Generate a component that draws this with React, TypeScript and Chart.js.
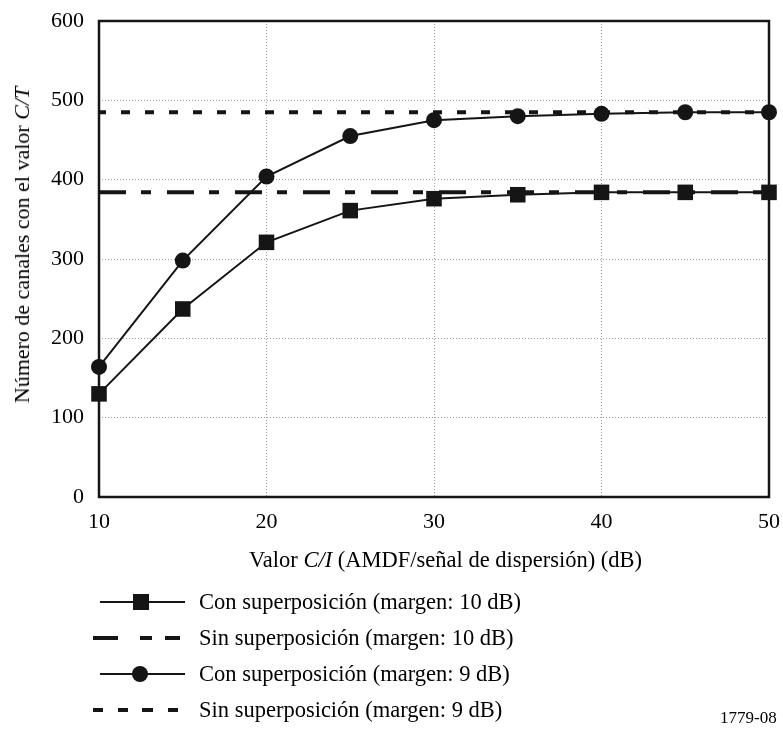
import React, { useEffect, useRef } from 'react';
import { Chart, registerables } from 'chart.js';

Chart.register(...registerables);

// C/I values (dB)
const xValues = [10, 15, 20, 25, 30, 35, 40, 45, 50];
// Con superposición (margen: 10 dB)
const conSup10 = [130, 237, 321, 361, 376, 381, 384, 384, 384];
// Con superposición (margen: 9 dB)
const conSup9 = [164, 298, 404, 455, 475, 480, 483, 485, 485];
// Sin superposición (constant levels)
const sinSup10 = [384, 384, 384, 384, 384, 384, 384, 384, 384];
const sinSup9 = [485, 485, 485, 485, 485, 485, 485, 485, 485];

const xTicks = [10, 20, 30, 40, 50];
const yTicks = [0, 100, 200, 300, 400, 500, 600];

const legendLabels = [
  'Con superposición (margen: 10 dB)',
  'Sin superposición (margen: 10 dB)',
  'Con superposición (margen: 9 dB)',
  'Sin superposición (margen: 9 dB)',
];

const FONT = "'Liberation Serif', 'Times New Roman', serif";
const INK = '#151515';

const toPoints = (ys: number[]) => xValues.map((x, i) => ({ x, y: ys[i] }));

const framePlugin = {
  id: 'frame',
  beforeDatasetsDraw(chart: any) {
    const { ctx, chartArea } = chart;
    ctx.save();
    ctx.strokeStyle = INK;
    ctx.lineWidth = 2.5;
    ctx.strokeRect(chartArea.left, chartArea.top, chartArea.right - chartArea.left, chartArea.bottom - chartArea.top);
    ctx.restore();
  },
};

const zeroPad = (s: any) => {
  s.paddingTop = 0;
  s.paddingBottom = 0;
  s.paddingLeft = 0;
  s.paddingRight = 0;
};

export default function App() {
  const canvasRef = useRef<HTMLCanvasElement | null>(null);

  useEffect(() => {
    const canvas = canvasRef.current;
    if (!canvas) return;
    const chart = new Chart(canvas, {
      type: 'line',
      data: {
        datasets: [
          {
            label: legendLabels[0],
            data: toPoints(conSup10),
            borderColor: INK,
            backgroundColor: INK,
            borderWidth: 2,
            pointStyle: 'rect',
            pointRadius: 11,
            pointBorderWidth: 0,
            tension: 0,
          },
          {
            label: legendLabels[2],
            data: toPoints(conSup9),
            borderColor: INK,
            backgroundColor: INK,
            borderWidth: 2,
            pointStyle: 'circle',
            pointRadius: 8,
            pointBorderWidth: 0,
            tension: 0,
          },
          {
            label: legendLabels[1],
            data: toPoints(sinSup10),
            borderColor: INK,
            borderWidth: 4,
            borderDash: [27, 15, 10, 16],
            pointRadius: 0,
          },
          {
            label: legendLabels[3],
            data: toPoints(sinSup9),
            borderColor: INK,
            borderWidth: 4,
            borderDash: [9, 15],
            borderDashOffset: 2,
            pointRadius: 0,
          },
        ],
      },
      options: {
        animation: false,
        responsive: false,
        clip: false as any,
        layout: { padding: { left: 0, top: 21, right: 14, bottom: 0 } },
        plugins: { legend: { display: false }, tooltip: { enabled: false } },
        scales: {
          x: {
            type: 'linear',
            min: 10,
            max: 50,
            afterBuildTicks: (s: any) => {
              s.ticks = xTicks.map((v) => ({ value: v }));
            },
            afterFit: (s: any) => {
              s.height = 234;
              zeroPad(s);
            },
            grid: {
              color: (c: any) => (c.tick && (c.tick.value === 10 || c.tick.value === 50) ? 'rgba(0,0,0,0)' : '#9a9a9a'),
              lineWidth: 1,
              drawTicks: false,
            },
            border: { display: false, dash: [1, 2] },
            ticks: { padding: 12, color: '#000', maxRotation: 0, font: { family: FONT, size: 22 } },
          },
          y: {
            type: 'linear',
            min: 0,
            max: 600,
            afterBuildTicks: (s: any) => {
              s.ticks = yTicks.map((v) => ({ value: v }));
            },
            afterFit: (s: any) => {
              s.width = 99;
              zeroPad(s);
            },
            grid: {
              color: (c: any) => (c.tick && (c.tick.value === 0 || c.tick.value === 600) ? 'rgba(0,0,0,0)' : '#9a9a9a'),
              lineWidth: 1,
              drawTicks: false,
            },
            border: { display: false, dash: [1, 2] },
            ticks: { padding: 15, color: '#000', font: { family: FONT, size: 22 } },
          },
        },
      },
      plugins: [framePlugin],
    });
    return () => chart.destroy();
  }, []);

  const textStyle: React.CSSProperties = {
    position: 'absolute',
    fontFamily: FONT,
    fontSize: 22.5,
    color: '#000',
    whiteSpace: 'nowrap',
    lineHeight: '1',
  };

  const rowY = [602, 638, 674, 710];
  const svgTop = 585;

  return (
    <div style={{ position: 'absolute', left: 0, top: 0, width: 783, height: 731, background: '#fff', overflow: 'hidden' }}>
      <canvas ref={canvasRef} width={783} height={731} style={{ position: 'absolute', left: 0, top: 0 }} />
      <div
        style={{
          ...textStyle,
          fontSize: 22,
          left: 22,
          top: 245,
          transform: 'translate(-50%, -50%) rotate(-90deg)',
        }}
      >
        Número de canales con el valor <i>C/T</i>
      </div>
      <div style={{ ...textStyle, left: 249, top: 560, transform: 'translateY(-50%)' }}>
        Valor <i>C/I</i> (AMDF/señal de dispersión) (dB)
      </div>
      <svg width={100} height={140} style={{ position: 'absolute', left: 90, top: svgTop }}>
        {/* row 1: line + square */}
        <line x1={10} y1={rowY[0] - svgTop} x2={95} y2={rowY[0] - svgTop} stroke={INK} strokeWidth={2} />
        <rect x={51 - 8} y={rowY[0] - svgTop - 8} width={16} height={16} fill={INK} />
        {/* row 2: long-short dash */}
        <line x1={3} y1={rowY[1] - svgTop} x2={28} y2={rowY[1] - svgTop} stroke={INK} strokeWidth={4} />
        <line x1={50} y1={rowY[1] - svgTop} x2={62} y2={rowY[1] - svgTop} stroke={INK} strokeWidth={4} />
        <line x1={75} y1={rowY[1] - svgTop} x2={90} y2={rowY[1] - svgTop} stroke={INK} strokeWidth={4} />
        {/* row 3: line + circle */}
        <line x1={10} y1={rowY[2] - svgTop} x2={95} y2={rowY[2] - svgTop} stroke={INK} strokeWidth={2} />
        <circle cx={50} cy={rowY[2] - svgTop} r={8} fill={INK} />
        {/* row 4: short dashes */}
        <line x1={3} y1={rowY[3] - svgTop} x2={13} y2={rowY[3] - svgTop} stroke={INK} strokeWidth={4} />
        <line x1={28} y1={rowY[3] - svgTop} x2={38} y2={rowY[3] - svgTop} stroke={INK} strokeWidth={4} />
        <line x1={52} y1={rowY[3] - svgTop} x2={63} y2={rowY[3] - svgTop} stroke={INK} strokeWidth={4} />
        <line x1={78} y1={rowY[3] - svgTop} x2={88} y2={rowY[3] - svgTop} stroke={INK} strokeWidth={4} />
      </svg>
      {legendLabels.map((t, i) => (
        <div key={t} style={{ ...textStyle, left: 199, top: rowY[i], transform: 'translateY(-50%)' }}>
          {t}
        </div>
      ))}
      <div style={{ ...textStyle, fontSize: 17, left: 720, top: 717, transform: 'translateY(-50%)' }}>1779-08</div>
    </div>
  );
}
